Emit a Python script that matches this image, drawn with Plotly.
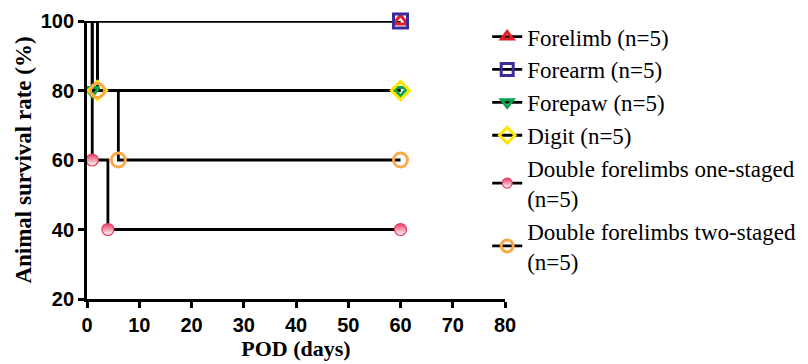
import plotly.graph_objects as go

# ---- data ----
series_names = [
    "Forelimb (n=5)",
    "Forearm (n=5)",
    "Forepaw (n=5)",
    "Digit (n=5)",
    "Double forelimbs one-staged<br>(n=5)",
    "Double forelimbs two-staged<br>(n=5)",
]
days_forelimb = [0, 60]
surv_forelimb = [100, 100]
days_forearm = [0, 60]
surv_forearm = [100, 100]
days_forepaw = [0, 1, 60]
surv_forepaw = [100, 80, 80]
days_digit = [0, 2, 60]
surv_digit = [100, 80, 80]
days_one = [0, 1, 4, 60]
surv_one = [100, 60, 40, 40]
days_two = [0, 2, 6, 60]
surv_two = [100, 80, 60, 60]

x_ticks = [0, 10, 20, 30, 40, 50, 60, 70, 80]
y_ticks = [20, 40, 60, 80, 100]

all_days = [days_forelimb, days_forearm, days_forepaw, days_digit, days_one, days_two]
all_surv = [surv_forelimb, surv_forearm, surv_forepaw, surv_digit, surv_one, surv_two]

colors = ["#e41e26", "#3a2d9b", "#0aa14a", "#ffe600", "#e83a62", "#fbaa4b"]
symbols = ["triangle-up-open", "square-open", "triangle-down-open", "diamond-open", "circle", "circle-open"]
sizes = [12, 14, 12, 14, 12, 14]

fig = go.Figure()

# step lines (black)
for d, s in zip(all_days, all_surv):
    fig.add_trace(go.Scatter(x=d, y=s, mode="lines", line=dict(color="black", width=2.8, shape="hv"),
                             showlegend=False, hoverinfo="skip", cliponaxis=False))


def marker_style(i, size):
    if symbols[i] == "circle":
        return dict(symbol="circle", size=size, color=colors[i],
                    gradient=dict(type="vertical", color="white"),
                    line=dict(width=1.2, color=colors[i]))
    return dict(symbol=symbols[i], size=size, color=colors[i], line=dict(width=3, color=colors[i]))


# markers at event points
for i, (d, s) in enumerate(zip(all_days, all_surv)):
    fig.add_trace(go.Scatter(x=d[1:], y=s[1:], mode="markers", marker=marker_style(i, sizes[i]),
                             showlegend=False, cliponaxis=False))

# legend entries
for i, name in enumerate(series_names):
    fig.add_trace(go.Scatter(x=[None], y=[None], mode="lines+markers", name=name,
                             line=dict(color="black", width=2.8), marker=marker_style(i, sizes[i] - 2)))

axis_common = dict(
    showline=True, linecolor="black", linewidth=2.8, ticks="outside", ticklen=6,
    tickwidth=2.8, tickcolor="black", showgrid=False, zeroline=False, automargin=False,
    tickfont=dict(family="Liberation Sans", size=20, color="black", weight="bold"),
)

# the page body adds an 8px offset, so the figure is 8px smaller and shifted
fig.update_layout(
    width=800, height=356,
    margin=dict(l=79, r=303, t=13, b=65, autoexpand=False),
    plot_bgcolor="white", paper_bgcolor="white",
    xaxis=dict(range=[0, 80], tickvals=x_ticks, **axis_common,
               title=dict(text="POD (days)", standoff=2,
                          font=dict(family="Liberation Serif", size=22, color="black", weight="bold"))),
    yaxis=dict(range=[20, 100], tickvals=y_ticks, **axis_common,
               title=dict(text="Animal survival rate (%)", standoff=3,
                          font=dict(family="Liberation Serif", size=23, color="black", weight="bold"))),
    legend=dict(xref="container", yref="container", x=0.599, y=0.98, xanchor="left", yanchor="top",
                font=dict(family="Liberation Serif", size=23, color="black"), maxheight=350,
                bgcolor="rgba(0,0,0,0)", tracegroupgap=0),
)

fig.write_html("out.html")
